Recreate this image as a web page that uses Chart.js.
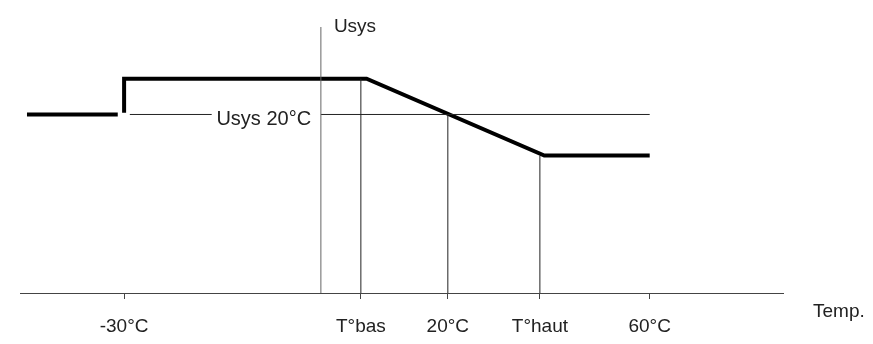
<!DOCTYPE html>
<html>
<head>
<meta charset="utf-8">
<script src="https://cdn.jsdelivr.net/npm/chart.js@4/dist/chart.umd.min.js"></script>
<style>
  body { margin: 0; background: #fff; }
  #box { width: 873px; height: 344px; }
</style>
</head>
<body>
<div id="box"><canvas id="sketch" width="873" height="344"></canvas></div>
<script>
// axe des températures (positions sur le schéma) et libellés
const tickPos = [-31, 6.3, 20, 34.5, 51.8];
const tickLabels = ['-30°C', 'T°bas', '20°C', 'T°haut', '60°C'];
// niveaux de tension
const uHigh = 1.2;
const u20 = 1.0;
const uLow = 0.77;
// courbe Usys (trait épais)
const usysLeft = [{ x: -46.3, y: u20 }, { x: -32, y: u20 }];
const usysMain = [{ x: -31, y: 1.01 }, { x: -31, y: uHigh }, { x: 7.2, y: uHigh }, { x: 35.2, y: uLow }, { x: 51.8, y: uLow }];
// ligne Usys 20°C (coupée par son libellé)
const refLine = [{ x: -30.1, y: u20 }, { x: -17.2, y: u20 }, { x: -8, y: null }, { x: 0, y: u20 }, { x: 51.8, y: u20 }];
// repères verticaux
const guides = [
    [{ x: 6.3, y: 0 }, { x: 6.3, y: uHigh }],
    [{ x: 20, y: 0 }, { x: 20, y: u20 }],
    [{ x: 34.5, y: 0 }, { x: 34.5, y: uLow }]
];
const yAxisLine = [{ x: 0, y: 0 }, { x: 0, y: 1.49 }];

const fontFam = '"Liberation Sans", Arial, sans-serif';

function lineSet(data, color, width) {
    return {
        data: data,
        borderColor: color,
        borderWidth: width,
        pointRadius: 0,
        fill: false,
        tension: 0,
        spanGaps: false,
        borderCapStyle: 'butt',
        borderJoinStyle: 'miter'
    };
}

// textes libres du schéma
const labelsPlugin = {
    id: 'sketchLabels',
    afterDraw(chart) {
        const ctx = chart.ctx;
        const xs = chart.scales.x;
        const ys = chart.scales.y;
        ctx.save();
        ctx.fillStyle = '#222';
        ctx.font = '19px ' + fontFam;
        ctx.textBaseline = 'middle';
        ctx.textAlign = 'left';
        ctx.fillText('Usys', xs.getPixelForValue(0) + 13, ys.getPixelForValue(1.49));
        ctx.font = '20px ' + fontFam;
        ctx.textAlign = 'center';
        ctx.fillText('Usys 20°C', xs.getPixelForValue(-9.0), ys.getPixelForValue(u20) + 5);
        ctx.font = '19px ' + fontFam;
        ctx.textAlign = 'left';
        ctx.fillText('Temp.', chart.chartArea.right + 30, ys.getPixelForValue(0) + 19);
        ctx.restore();
    }
};

const ctx = document.getElementById('sketch').getContext('2d');
const chart = new Chart(ctx, {
    type: 'line',
    data: {
        datasets: [
            lineSet(yAxisLine, '#666', 1),
            lineSet(refLine, '#222', 1),
            lineSet(guides[0], '#222', 1),
            lineSet(guides[1], '#222', 1),
            lineSet(guides[2], '#222', 1),
            lineSet(usysLeft, '#000', 4),
            lineSet(usysMain, '#000', 4)
        ]
    },
    options: {
        responsive: false,
        animation: false,
        layout: { padding: { left: 20, right: 90, top: 27, bottom: 6 } },
        plugins: {
            legend: { display: false },
            title: { display: false },
            tooltip: { enabled: false }
        },
        scales: {
            x: {
                type: 'linear',
                min: -47.4,
                max: 72.8,
                afterBuildTicks: axis => {
                    axis.ticks = tickPos.map(v => ({ value: v }));
                },
                afterFit: axis => {
                    axis.height = 45;
                },
                ticks: {
                    autoSkip: false,
                    maxRotation: 0,
                    padding: 16,
                    color: '#222',
                    font: { family: fontFam, size: 19 },
                    callback: (val, i) => tickLabels[i]
                },
                grid: {
                    drawOnChartArea: false,
                    drawTicks: true,
                    tickLength: 6,
                    color: '#444'
                },
                border: { display: true, color: '#444', width: 1 }
            },
            y: {
                display: false,
                min: 0,
                max: 1.49
            }
        }
    },
    plugins: [labelsPlugin]
});
</script>
</body>
</html>
